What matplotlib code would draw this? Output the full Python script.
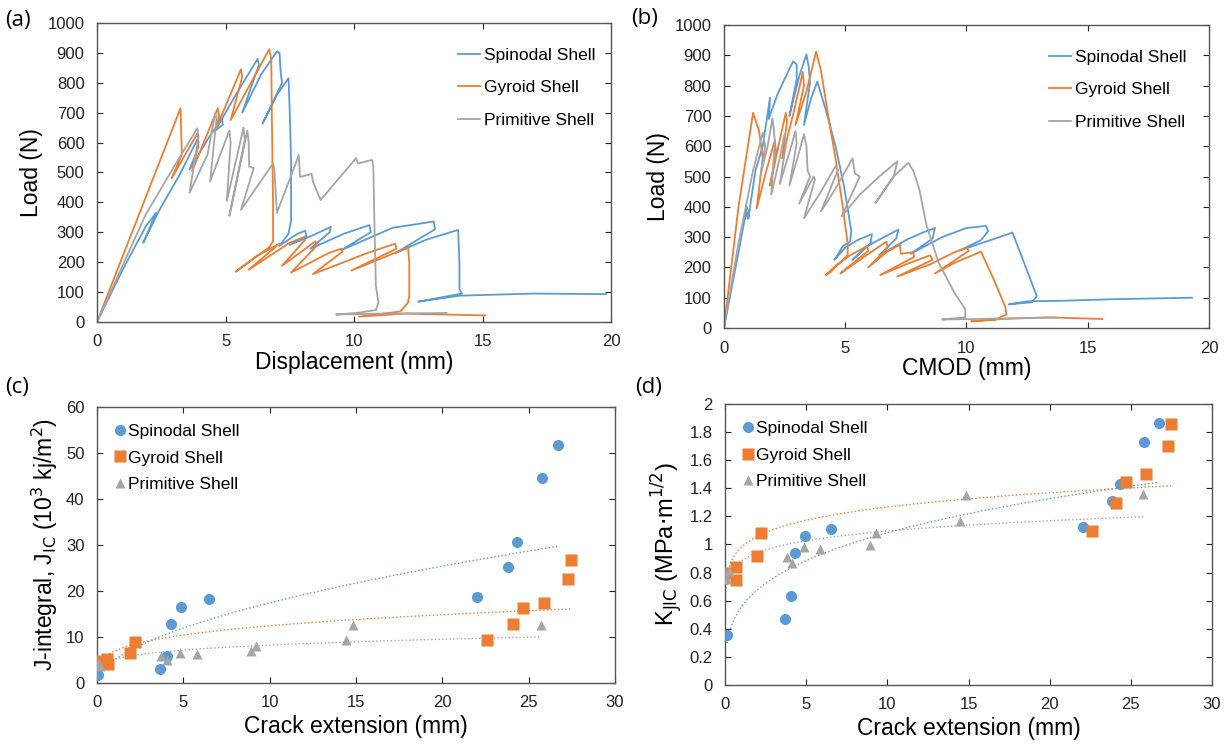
import numpy as np
import matplotlib
matplotlib.use("Agg")
import matplotlib.pyplot as plt

plt.rcParams['font.family'] = ['Liberation Sans', 'DejaVu Sans']

BLUE = '#5B9BD5'
ORANGE = '#ED7D31'
GRAY = '#A5A5A5'
names = ['Spinodal Shell', 'Gyroid Shell', 'Primitive Shell']

# ---- (a) load vs displacement ----
spin_a_x = [0, 1.0, 1.9, 2.3, 1.8, 2.4, 3.2, 3.9, 3.95, 3.6, 4.3, 4.85, 4.9, 4.6, 5.4, 6.25, 6.3,
            5.65, 6.4, 7.0, 7.1, 7.15, 7.2, 6.45, 7.0, 7.45, 7.5, 7.55, 7.55, 7.45, 7.1, 7.8, 8.1,
            8.15, 7.5, 8.4, 9.1, 9.05, 8.3, 9.6, 10.6, 10.65, 9.5, 11.5, 13.1, 13.15, 11.6, 12.8,
            14.05, 14.1, 14.1, 14.2, 12.5, 14.1, 17.0, 19.8]
spin_a_y = [0, 175, 320, 365, 265, 370, 490, 610, 585, 510, 610, 680, 660, 640, 760, 880, 860,
            700, 830, 905, 900, 830, 800, 665, 760, 815, 700, 540, 340, 295, 255, 295, 305,
            288, 258, 290, 318, 300, 245, 295, 324, 300, 240, 315, 336, 310, 230, 275,
            308, 200, 110, 95, 68, 88, 95, 93]
gyr_a_x = [0, 3.25, 3.3, 2.9, 3.9, 3.95, 3.7, 4.7, 4.75, 4.6, 5.6, 5.65, 5.2, 6.7, 6.78, 6.8,
           6.85, 6.85, 6.7, 5.4, 6.2, 7.1, 5.9, 7.5, 8.0, 8.1, 7.2, 8.5, 8.55, 7.55, 9.0, 9.5,
           9.55, 8.4, 10.5, 11.6, 11.65, 9.9, 11.5, 12.1, 12.15, 12.15, 12.1, 11.8, 10.2, 12.0,
           13.5, 15.1]
gyr_a_y = [0, 715, 560, 480, 630, 600, 505, 715, 690, 640, 845, 820, 675, 912, 880, 700,
           400, 270, 250, 168, 220, 262, 175, 265, 282, 275, 188, 270, 255, 165, 230, 245,
           235, 160, 230, 262, 245, 172, 228, 248, 200, 90, 65, 35, 18, 28,
           25, 22]
prim_a_x = [0, 1.9, 3.0, 3.9, 3.95, 3.6, 4.3, 4.6, 4.65, 4.4, 5.15, 5.2, 5.05, 5.7, 5.75, 5.15,
            5.85, 5.9, 5.92, 6.1, 5.6, 6.85, 6.9, 7.0, 7.85, 7.9, 8.35, 8.4, 8.7, 10.08, 10.15,
            10.7, 10.75, 10.8, 10.85, 10.95, 10.85, 10.1, 9.3, 11.0, 13.6]
prim_a_y = [0, 360, 520, 648, 620, 432, 560, 700, 680, 470, 640, 600, 405, 650, 610, 355,
            640, 600, 520, 515, 375, 530, 510, 365, 558, 485, 495, 470, 408, 548, 530,
            542, 520, 300, 120, 65, 40, 30, 25, 28, 30]

# ---- (b) load vs CMOD ----
spin_b_x = [0, 0.6, 0.95, 0.85, 1.05, 1.0, 1.3, 1.6, 1.9, 1.85, 2.2, 2.55, 2.85, 3.0, 3.0, 2.7,
            3.1, 3.4, 3.5, 3.55, 3.3, 3.6, 3.85, 4.2, 4.6, 4.95, 5.15, 5.25, 5.2, 4.9, 4.6, 4.55,
            5.0, 5.5, 6.1, 6.05, 5.3, 5.9, 6.6, 7.2, 7.1, 6.4, 7.5, 8.2, 8.7, 8.6, 7.7, 9.0, 10.0,
            10.8, 10.9, 10.6, 9.7, 10.8, 11.9, 12.4, 12.9, 12.7, 11.75, 12.5, 14.0, 16.0, 19.3]
spin_b_y = [0, 250, 400, 360, 390, 360, 520, 600, 760, 690, 770, 830, 880, 870, 820, 700,
            830, 903, 860, 810, 670, 760, 813, 720, 600, 468, 370, 320, 285, 270, 230, 225,
            265, 290, 310, 280, 225, 270, 300, 325, 295, 240, 290, 315, 330, 295, 245, 300, 330,
            337, 320, 290, 255, 285, 315, 210, 105, 85, 78, 88, 90, 95, 100]
gyr_b_x = [0, 0.6, 1.2, 1.45, 1.6, 1.35, 1.75, 2.1, 2.15, 1.9, 2.3, 2.55, 2.6, 2.4, 2.9, 3.25,
           3.3, 2.95, 3.4, 3.8, 4.0, 4.3, 4.6, 4.9, 5.1, 5.1, 4.9, 4.4, 4.2, 4.6, 5.2, 5.9, 5.95,
           4.8, 5.6, 6.7, 6.75, 5.95, 6.7, 7.25, 7.3, 7.8, 7.85, 6.45, 7.5, 8.5, 8.6, 7.15, 8.5,
           9.5, 10.0, 10.1, 8.7, 9.5, 10.6, 11.1, 11.6, 11.65, 11.2, 10.2, 11.5, 13.3, 15.6]
gyr_b_y = [0, 400, 710, 650, 560, 395, 520, 620, 580, 470, 620, 710, 680, 560, 720, 845,
           800, 670, 780, 912, 850, 700, 560, 400, 280, 240, 225, 185, 175, 205, 240, 270, 255,
           180, 225, 285, 265, 200, 250, 275, 245, 250, 235, 175, 210, 240, 225, 170, 210,
           250, 265, 255, 180, 215, 252, 165, 70, 45, 28, 22, 30, 35, 30]
prim_b_x = [0, 0.6, 1.2, 1.6, 1.7, 1.5, 1.8, 2.0, 2.1, 1.95, 2.3, 2.5, 2.55, 2.3, 2.7, 2.95,
            3.0, 2.7, 3.1, 3.3, 3.4, 3.45, 3.55, 3.1, 3.7, 3.75, 3.3, 4.0, 4.6, 4.7, 4.0, 4.6,
            5.2, 5.3, 5.4, 5.6, 4.85, 5.6, 6.4, 7.15, 7.0, 6.25, 7.0, 7.6, 7.8, 8.05, 8.35,
            8.85, 9.5, 9.95, 9.95, 9.0, 10.5, 13.8]
prim_b_y = [0, 280, 520, 645, 600, 500, 600, 692, 620, 440, 560, 640, 600, 475, 580, 650,
            610, 470, 580, 640, 600, 520, 500, 410, 500, 490, 362, 450, 534, 520, 385, 460,
            545, 560, 510, 500, 368, 440, 500, 550, 500, 413, 500, 545, 520, 460, 340,
            216, 117, 62, 35, 28, 30, 35]

# ---- (c) J-integral vs crack extension ----
spin_c_x = [0.07, 3.62, 4.03, 4.3, 4.87, 6.48, 22.0, 23.8, 24.3, 25.8, 26.7]
spin_c_y = [1.7, 3.1, 5.9, 12.9, 16.5, 18.2, 18.6, 25.3, 30.7, 44.6, 51.8]
gyr_c_x = [0.05, 0.6, 0.65, 1.9, 2.2, 22.6, 24.1, 24.7, 25.9, 27.25, 27.45]
gyr_c_y = [4.8, 5.3, 4.2, 6.5, 9.0, 9.3, 12.8, 16.2, 17.4, 22.6, 26.8]
prim_c_x = [0.14, 0.2, 3.73, 4.07, 4.83, 5.79, 8.9, 9.2, 14.4, 14.83, 25.74]
prim_c_y = [4.3, 3.6, 5.8, 5.1, 6.5, 6.4, 6.9, 8.0, 9.4, 12.5, 12.5]

# ---- (d) K_JIC vs crack extension ----
spin_d_x = [0.12, 3.72, 4.09, 4.33, 4.91, 6.54, 22.04, 23.82, 24.3, 25.8, 26.74]
spin_d_y = [0.354, 0.47, 0.636, 0.937, 1.063, 1.11, 1.122, 1.312, 1.433, 1.732, 1.867]
gyr_d_x = [0.02, 0.66, 0.66, 1.95, 2.24, 22.6, 24.1, 24.7, 25.94, 27.27, 27.47]
gyr_d_y = [0.795, 0.837, 0.747, 0.92, 1.084, 1.098, 1.295, 1.442, 1.5, 1.703, 1.855]
prim_d_x = [0.1, 0.22, 3.8, 4.14, 4.89, 5.82, 8.93, 9.3, 14.45, 14.82, 25.77]
prim_d_y = [0.752, 0.814, 0.913, 0.866, 0.985, 0.966, 0.996, 1.08, 1.167, 1.352, 1.359]


def style(ax, xlim, ylim, xticks, yticks):
    ax.set_xlim(*xlim)
    ax.set_ylim(*ylim)
    ax.set_xticks(xticks)
    ax.set_yticks(yticks)
    ax.tick_params(direction='in', top=True, right=True, length=4, width=0.8,
                   labelsize=12, colors='#222222', pad=9)
    for s in ax.spines.values():
        s.set_color('#555555')
        s.set_linewidth(1.0)


def power_trend(ax, x, y, color):
    # Excel-style power trendline fitted to the points
    b, lna = np.polyfit(np.log(x), np.log(y), 1)
    xs = np.linspace(min(x), max(x), 200)
    ax.plot(xs, np.exp(lna) * xs ** b, ':', color=color, lw=1.0)


fig = plt.figure(figsize=(12.31, 7.46), dpi=100)
axa = fig.add_axes([0.0788, 0.5684, 0.4176, 0.4008])
axb = fig.add_axes([0.5881, 0.5603, 0.3940, 0.4062])
axc = fig.add_axes([0.0788, 0.0845, 0.4208, 0.3700])
axd = fig.add_axes([0.5890, 0.0818, 0.3956, 0.3767])

for ax, data, anchor in ((axa, [(spin_a_x, spin_a_y), (gyr_a_x, gyr_a_y), (prim_a_x, prim_a_y)], 1.0),
                         (axb, [(spin_b_x, spin_b_y), (gyr_b_x, gyr_b_y), (prim_b_x, prim_b_y)], 0.985)):
    for (x, y), c, n in zip(data, [BLUE, ORANGE, GRAY], names):
        ax.plot(x, y, color=c, lw=1.3, label=n)
    style(ax, (0, 20), (0, 1000), [0, 5, 10, 15, 20], range(0, 1001, 100))
    ax.set_ylabel('Load (N)', fontsize=16.5, labelpad=3)
    ax.legend(loc='upper right', bbox_to_anchor=(anchor, 0.97), frameon=False, fontsize=12.5,
              handlelength=1.3, handletextpad=0.2, labelspacing=1.0)
axa.set_xlabel('Displacement (mm)', fontsize=16.5, labelpad=1)
axb.set_xlabel('CMOD (mm)', fontsize=16.5, labelpad=1)

markers = ['o', 's', '^']
for ax, data in ((axc, [(spin_c_x, spin_c_y), (gyr_c_x, gyr_c_y), (prim_c_x, prim_c_y)]),
                 (axd, [(spin_d_x, spin_d_y), (gyr_d_x, gyr_d_y), (prim_d_x, prim_d_y)])):
    for (x, y), c, m, n in zip(data, [BLUE, ORANGE, GRAY], markers, names):
        ax.plot(x, y, m, color=c, ms=8 if m != '^' else 7.5, mec='none', label=n, zorder=3)
    for (x, y), c in zip(data, [BLUE, ORANGE, GRAY]):
        power_trend(ax, x, y, c)
    ax.set_xlabel('Crack extension (mm)', fontsize=16.5, labelpad=3)
    ax.legend(loc='upper left', bbox_to_anchor=(0.0, 0.995), frameon=False, fontsize=12.5,
              handlelength=0.8, handletextpad=0.1, labelspacing=0.65, borderpad=0.4)

style(axc, (0, 30), (0, 60), range(0, 31, 5), range(0, 61, 10))
style(axd, (0, 30), (0, 2), range(0, 31, 5), [0, 0.2, 0.4, 0.6, 0.8, 1, 1.2, 1.4, 1.6, 1.8, 2])
axd.set_yticklabels(['0', '0.2', '0.4', '0.6', '0.8', '1', '1.2', '1.4', '1.6', '1.8', '2'])
axc.set_ylabel('J-integral, J$_{\\mathrm{IC}}$ (10$^{3}$ kj/m$^{2}$)', fontsize=16.5, labelpad=4)
axd.set_ylabel('K$_{\\mathrm{JIC}}$ (MPa$\\cdot$m$^{1/2}$)', fontsize=17, labelpad=3)

for lab, (x, y) in zip(['(a)', '(b)', '(c)', '(d)'],
                       [(0.004, 0.973), (0.513, 0.975), (0.004, 0.481), (0.516, 0.481)]):
    fig.text(x, y, lab, fontsize=16, family=['Open Sans', 'DejaVu Sans'], va='center')

fig.savefig('out.png', dpi=100, facecolor='white')
